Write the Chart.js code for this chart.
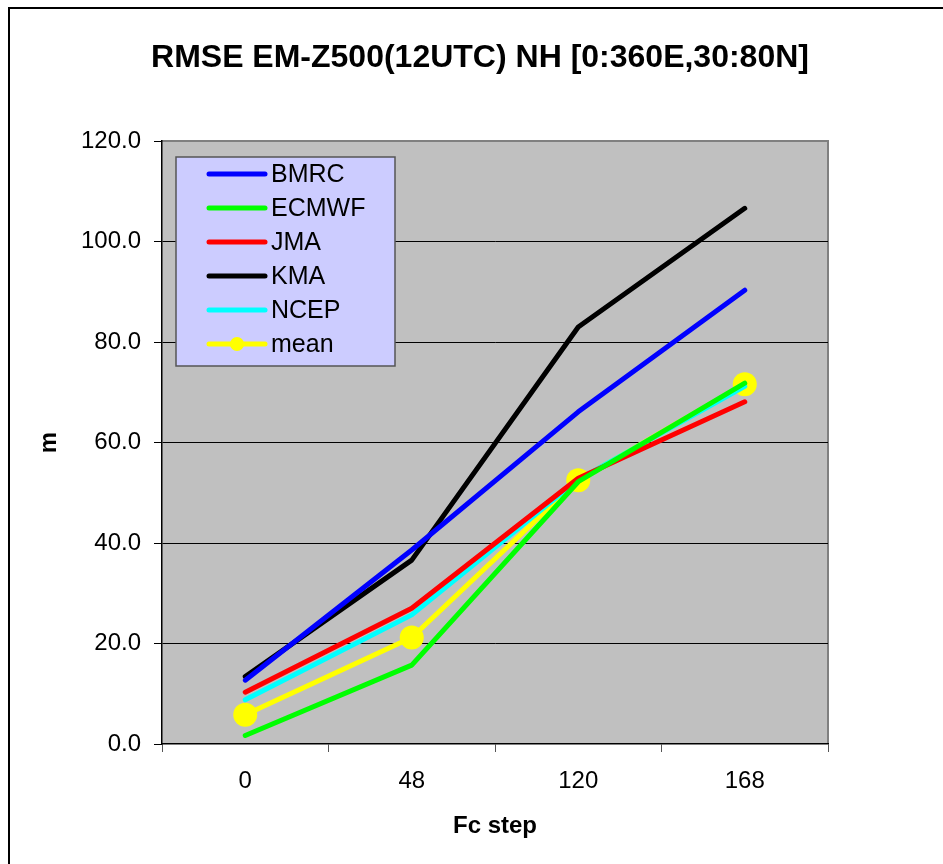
<!DOCTYPE html>
<html>
<head>
<meta charset="utf-8">
<script src="https://cdn.jsdelivr.net/npm/chart.js@4.4.1/dist/chart.umd.min.js"></script>
<style>
    html, body { margin: 0; padding: 0; background: #fff; }
    #wrap { width: 943px; height: 864px; }
</style>
</head>
<body>
<div id="wrap"><canvas id="myChart"></canvas></div>
<script>
const chartTitle = 'RMSE EM-Z500(12UTC) NH [0:360E,30:80N]';
const fcSteps = ['0', '48', '120', '168'];
const bmrc = [12.7, 38.6, 66.1, 90.3];
const ecmwf = [1.7, 15.7, 52.2, 71.8];
const jma = [10.3, 27.0, 52.9, 68.1];
const kma = [13.4, 36.6, 83.0, 106.6];
const ncep = [8.8, 25.7, 52.6, 71.2];
const mean = [5.8, 21.2, 52.5, 71.6];

const chartFont = 'Arial, "Liberation Sans", sans-serif';

function lineSet(label, data, color) {
    return {
        label: label,
        data: data,
        borderColor: color,
        backgroundColor: color,
        borderWidth: 5,
        pointRadius: 0,
        borderCapStyle: 'round',
        borderJoinStyle: 'round',
        tension: 0
    };
}

const meanSet = lineSet('mean', mean, '#ffff00');
meanSet.pointRadius = 12;
meanSet.pointStyle = 'circle';
meanSet.pointBorderWidth = 0;

// plot background, outer frame and title
const backgroundPlugin = {
    id: 'backgroundPlugin',
    beforeDraw: (chart) => {
        const { ctx, chartArea: { left, top, right, bottom } } = chart;
        ctx.save();
        ctx.fillStyle = '#fff';
        ctx.fillRect(0, 0, chart.width, chart.height);
        ctx.strokeStyle = '#000';
        ctx.lineWidth = 2;
        ctx.strokeRect(9, 8, chart.width + 10, chart.height + 10);
        ctx.fillStyle = '#c0c0c0';
        ctx.fillRect(left, top, right - left, bottom - top);
        // gray frame on top and right
        ctx.strokeStyle = '#808080';
        ctx.lineWidth = 2;
        ctx.beginPath();
        ctx.moveTo(left, top);
        ctx.lineTo(right, top);
        ctx.lineTo(right, bottom);
        ctx.stroke();

        ctx.fillStyle = '#000';
        ctx.font = `bold 32px ${chartFont}`;
        ctx.textAlign = 'center';
        ctx.textBaseline = 'middle';
        ctx.fillText(chartTitle, 480, 58);
        ctx.restore();
    }
};

// legend box inside the plot area
const boxLegend = {
    id: 'boxLegend',
    afterDraw: (chart) => {
        const { ctx, data } = chart;
        const x0 = 176, y0 = 157, w = 219, h = 209;
        ctx.save();
        ctx.fillStyle = '#ccccff';
        ctx.fillRect(x0, y0, w, h);
        ctx.strokeStyle = '#555';
        ctx.lineWidth = 1.5;
        ctx.strokeRect(x0, y0, w, h);

        data.datasets.forEach((ds, i) => {
            const y = 174 + i * 34;
            ctx.strokeStyle = ds.borderColor;
            ctx.lineWidth = 5;
            ctx.lineCap = 'round';
            ctx.beginPath();
            ctx.moveTo(209, y);
            ctx.lineTo(265, y);
            ctx.stroke();
            if (ds.pointRadius > 0) {
                ctx.fillStyle = ds.borderColor;
                ctx.beginPath();
                ctx.arc(237, y, 7, 0, Math.PI * 2);
                ctx.fill();
            }
            ctx.fillStyle = '#000';
            ctx.font = `25px ${chartFont}`;
            ctx.textAlign = 'left';
            ctx.textBaseline = 'middle';
            ctx.fillText(ds.label, 271, y + 1);
        });
        ctx.restore();
    }
};

const config = {
    type: 'line',
    data: {
        labels: fcSteps,
        datasets: [
            lineSet('BMRC', bmrc, '#0000ff'),
            lineSet('ECMWF', ecmwf, '#00ff00'),
            lineSet('JMA', jma, '#ff0000'),
            lineSet('KMA', kma, '#000000'),
            lineSet('NCEP', ncep, '#00ffff'),
            meanSet
        ]
    },
    options: {
        responsive: true,
        maintainAspectRatio: false,
        animation: false,
        layout: {
            padding: { left: 0, top: 141, right: 115, bottom: 0 }
        },
        scales: {
            x: {
                type: 'category',
                offset: true,
                afterFit: (scale) => { scale.height = 120; },
                grid: {
                    offset: true,
                    drawOnChartArea: false,
                    drawTicks: true,
                    tickLength: 8,
                    color: '#000',
                    tickColor: '#555'
                },
                border: { color: '#000', width: 1.5 },
                ticks: {
                    color: '#000',
                    padding: 15,
                    maxRotation: 0,
                    font: { family: chartFont, size: 24 }
                },
                title: {
                    display: true,
                    text: 'Fc step',
                    color: '#000',
                    padding: { top: 0, bottom: 23 },
                    font: { family: chartFont, size: 24, weight: 'bold' }
                }
            },
            y: {
                min: 0,
                max: 120,
                afterFit: (scale) => { scale.width = 162; },
                grid: {
                    color: (c) => (c.tick.value === 0 || c.tick.value === 120) ? 'rgba(0,0,0,0)' : '#000',
                    lineWidth: 1,
                    tickLength: 8,
                    tickColor: '#000'
                },
                border: { color: '#000', width: 1.5 },
                ticks: {
                    stepSize: 20,
                    color: '#000',
                    padding: 13,
                    font: { family: chartFont, size: 24 },
                    callback: (v) => v.toFixed(1)
                },
                title: {
                    display: true,
                    text: 'm',
                    color: '#000',
                    padding: { top: 35, bottom: 0 },
                    font: { family: chartFont, size: 24, weight: 'bold' }
                }
            }
        },
        plugins: {
            legend: { display: false },
            tooltip: { enabled: false },
            title: { display: false }
        }
    },
    plugins: [backgroundPlugin, boxLegend]
};

new Chart(document.getElementById('myChart'), config);
</script>
</body>
</html>
